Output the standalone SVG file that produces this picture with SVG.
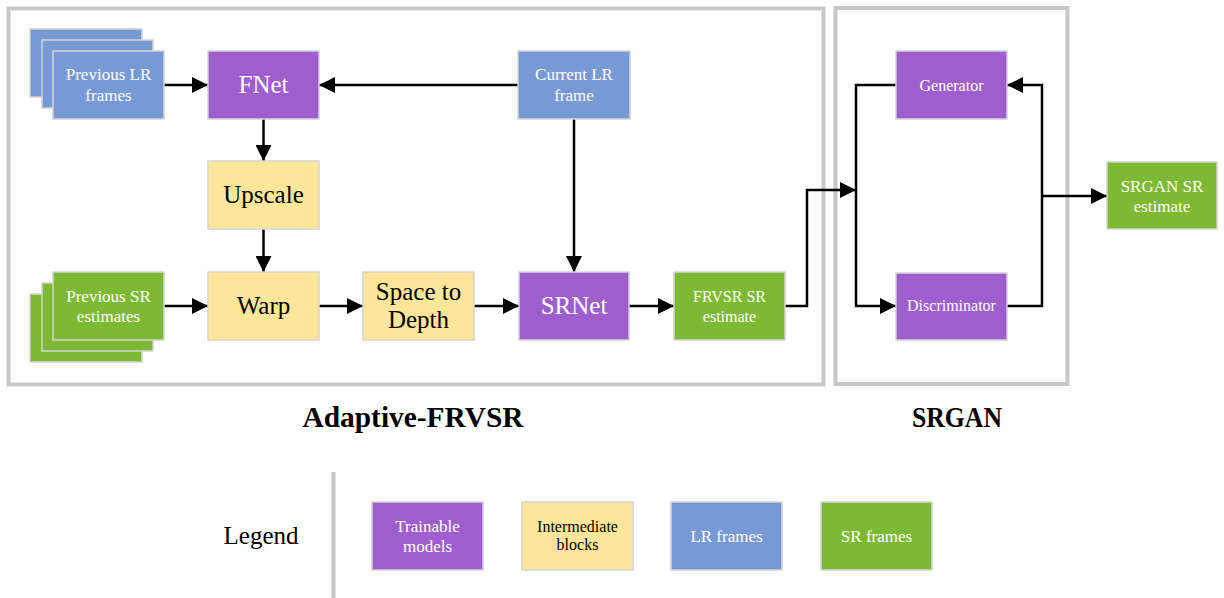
<svg xmlns="http://www.w3.org/2000/svg" width="1224" height="598" viewBox="0 0 1224 598">
  <style>
    .frame { fill: none; stroke: #c8c8c8; stroke-width: 4; }
    .box { stroke: #d4d4d4; stroke-width: 1.5; }
    .train { fill: #9e5ece; }
    .inter { fill: #ffe699; }
    .lr { fill: #7799d5; }
    .sr { fill: #7cba34; }
    text { font-family: "Liberation Serif", "Times New Roman", serif; text-anchor: middle; }
    .big { font-size: 25px; }
    .mid { font-size: 17px; }
    .small { font-size: 16px; }
    .w { fill: #ffffff; }
    .k { fill: #000000; }
    .title { font-size: 29px; font-weight: bold; fill: #000000; }
    .edge { fill: none; stroke: #000000; stroke-width: 2.5; }
  </style>
  <defs>
    <marker id="arrow" markerUnits="userSpaceOnUse" markerWidth="17" markerHeight="16" refX="16" refY="8" orient="auto">
      <path d="M0,0 L16,8 L0,16 z" fill="#000000"/>
    </marker>
  </defs>

  <rect width="1224" height="598" fill="#ffffff"/>

  <!-- section frames -->
  <rect class="frame" x="8.5" y="8.5" width="815" height="376"/>
  <rect class="frame" x="835.5" y="8" width="232" height="376"/>
  <text class="title" x="413" y="427" textLength="221" lengthAdjust="spacingAndGlyphs">Adaptive-FRVSR</text>
  <text class="title" x="957" y="427" textLength="90" lengthAdjust="spacingAndGlyphs">SRGAN</text>

  <!-- connectors -->
  <g id="connectors">
    <line class="edge" x1="164" y1="85" x2="208" y2="85" marker-end="url(#arrow)"/>
    <line class="edge" x1="518" y1="85" x2="319" y2="85" marker-end="url(#arrow)"/>
    <line class="edge" x1="263.5" y1="119" x2="263.5" y2="161" marker-end="url(#arrow)"/>
    <line class="edge" x1="263.5" y1="229" x2="263.5" y2="272" marker-end="url(#arrow)"/>
    <line class="edge" x1="164" y1="306" x2="208" y2="306" marker-end="url(#arrow)"/>
    <line class="edge" x1="319" y1="306" x2="363" y2="306" marker-end="url(#arrow)"/>
    <line class="edge" x1="474" y1="306" x2="519" y2="306" marker-end="url(#arrow)"/>
    <line class="edge" x1="629" y1="306" x2="674" y2="306" marker-end="url(#arrow)"/>
    <line class="edge" x1="574" y1="119" x2="574" y2="272" marker-end="url(#arrow)"/>
    <polyline class="edge" points="785,306 807,306 807,190 856,190" marker-end="url(#arrow)"/>
    <polyline class="edge" points="896,85 856,85 856,306 896,306" marker-end="url(#arrow)"/>
    <polyline class="edge" points="1007,306 1042,306 1042,85 1007,85" marker-end="url(#arrow)"/>
    <line class="edge" x1="1042" y1="196" x2="1107" y2="196" marker-end="url(#arrow)"/>
  </g>

  <!-- FRVSR nodes -->
  <g id="prev-lr">
    <rect class="box lr" x="30" y="29" width="112" height="68"/>
    <rect class="box lr" x="42" y="40" width="111" height="68"/>
    <rect class="box lr" x="53" y="51" width="111" height="68"/>
    <text class="mid w" x="108.5" y="80">Previous LR</text>
    <text class="mid w" x="108.5" y="101">frames</text>
  </g>
  <g id="fnet">
    <rect class="box train" x="208" y="51" width="111" height="68"/>
    <text class="big w" x="263.5" y="93">FNet</text>
  </g>
  <g id="current-lr">
    <rect class="box lr" x="518" y="51" width="112" height="68"/>
    <text class="mid w" x="574" y="80">Current LR</text>
    <text class="mid w" x="574" y="101">frame</text>
  </g>
  <g id="upscale">
    <rect class="box inter" x="208" y="161" width="111" height="68"/>
    <text class="big k" x="263.5" y="203">Upscale</text>
  </g>
  <g id="prev-sr">
    <rect class="box sr" x="30" y="294" width="112" height="68"/>
    <rect class="box sr" x="42" y="283" width="111" height="68"/>
    <rect class="box sr" x="53" y="272" width="111" height="68"/>
    <text class="mid w" x="108.5" y="302">Previous SR</text>
    <text class="mid w" x="108.5" y="322">estimates</text>
  </g>
  <g id="warp">
    <rect class="box inter" x="208" y="272" width="111" height="68"/>
    <text class="big k" x="263.5" y="314">Warp</text>
  </g>
  <g id="space-to-depth">
    <rect class="box inter" x="363" y="272" width="111" height="68"/>
    <text class="big k" x="418.5" y="300">Space to</text>
    <text class="big k" x="418.5" y="328">Depth</text>
  </g>
  <g id="srnet">
    <rect class="box train" x="519" y="272" width="110" height="68"/>
    <text class="big w" x="574" y="314">SRNet</text>
  </g>
  <g id="frvsr-estimate">
    <rect class="box sr" x="674" y="272" width="111" height="68"/>
    <text class="small w" x="729.5" y="302">FRVSR SR</text>
    <text class="small w" x="729.5" y="322">estimate</text>
  </g>

  <!-- SRGAN nodes -->
  <g id="generator">
    <rect class="box train" x="896" y="51" width="111" height="68"/>
    <text class="small w" x="951.5" y="91">Generator</text>
  </g>
  <g id="discriminator">
    <rect class="box train" x="896" y="273" width="111" height="67"/>
    <text class="small w" x="951.5" y="311">Discriminator</text>
  </g>
  <g id="srgan-estimate">
    <rect class="box sr" x="1107" y="162" width="110" height="67"/>
    <text class="mid w" x="1162" y="192">SRGAN SR</text>
    <text class="mid w" x="1162" y="212">estimate</text>
  </g>

  <!-- legend -->
  <g id="legend">
    <text class="k" x="261" y="544" style="font-size:25px">Legend</text>
    <line x1="333.5" y1="472" x2="333.5" y2="598" stroke="#c8c8c8" stroke-width="4"/>
    <rect class="box train" x="372" y="502" width="111" height="68"/>
    <text class="mid w" x="427.5" y="532">Trainable</text>
    <text class="mid w" x="427.5" y="552">models</text>
    <rect class="box inter" x="522" y="502" width="111" height="68"/>
    <text class="small k" x="577.5" y="532">Intermediate</text>
    <text class="small k" x="577.5" y="550">blocks</text>
    <rect class="box lr" x="671" y="502" width="111" height="68"/>
    <text class="mid w" x="726.5" y="542">LR frames</text>
    <rect class="box sr" x="821" y="502" width="111" height="68"/>
    <text class="mid w" x="876.5" y="542">SR frames</text>
  </g>
</svg>
